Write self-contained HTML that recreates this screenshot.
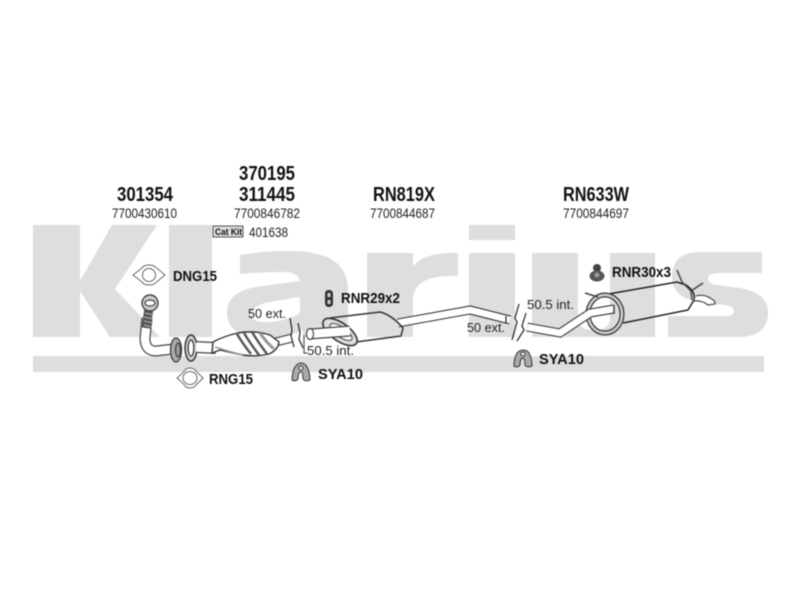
<!DOCTYPE html>
<html>
<head>
<meta charset="utf-8">
<style>
html,body{margin:0;padding:0;background:#fff;width:800px;height:600px;overflow:hidden}
svg{display:block;filter:blur(0.6px)}
text{font-family:"Liberation Sans",sans-serif;fill:#111}
.h{font-weight:bold;font-size:20px;text-anchor:start}
.n{font-size:14px;fill:#222}
.b{font-weight:bold;font-size:14.5px}
.m{font-size:13px;fill:#222}
</style>
</head>
<body>
<svg width="800" height="600" viewBox="0 0 800 600" xmlns="http://www.w3.org/2000/svg">
<rect width="800" height="600" fill="#fff"/>
<!-- watermark -->
<g fill="#dedede">
<path d="M33,225H80V281L112,225H157L115,289L160,337H110L80,291V337H33Z"/>
<rect x="169" y="225" width="43" height="112"/>
<path fill-rule="evenodd" d="M240,255Q262,251 290,251Q348,251 348,290V337H303V330Q285,339 265,338Q227,338 227,312Q227,290 262,286L300,281Q298,272 284,272Q262,272 240,274ZM300,297L270,302Q252,305 252,315Q252,322 265,322Q285,322 300,313Z"/>
<path d="M367,253H413V266Q425,252 458,253V276Q413,274 413,300V337H367Z"/>
<rect x="469" y="225" width="46" height="15"/>
<rect x="469" y="253" width="46" height="84"/>
<path d="M532,253H578V318Q578,330 594,330Q610,330 610,318V253H655V337H532Z"/>
<path d="M700,252H762V273H718Q708,273 708,279Q708,284 718,285L740,288Q768,293 768,312Q768,337 738,337H668V316H726Q734,316 734,311Q734,306 724,305L698,302Q672,297 672,277Q672,252 700,252Z"/>
<rect x="33" y="356" width="731" height="16"/>
</g>

<!-- headings -->
<text class="h" x="117" y="201" textLength="56" lengthAdjust="spacingAndGlyphs">301354</text>
<text class="h" x="239" y="180" textLength="56" lengthAdjust="spacingAndGlyphs">370195</text>
<text class="h" x="239" y="201" textLength="56" lengthAdjust="spacingAndGlyphs">311445</text>
<text class="h" x="373" y="201" textLength="62" lengthAdjust="spacingAndGlyphs">RN819X</text>
<text class="h" x="563" y="201" textLength="66" lengthAdjust="spacingAndGlyphs">RN633W</text>
<text class="n" x="112" y="218" textLength="65" lengthAdjust="spacingAndGlyphs">7700430610</text>
<text class="n" x="234" y="218" textLength="66" lengthAdjust="spacingAndGlyphs">7700846782</text>
<text class="n" x="370" y="218" textLength="65" lengthAdjust="spacingAndGlyphs">7700844687</text>
<text class="n" x="563" y="218" textLength="66" lengthAdjust="spacingAndGlyphs">7700844697</text>
<rect x="213" y="226" width="30" height="11" fill="#ddd" stroke="#555" stroke-width="1"/>
<text x="215" y="235" font-size="9" font-weight="bold" textLength="27" lengthAdjust="spacingAndGlyphs">Cat Kit</text>
<text class="n" x="249" y="237" textLength="39" lengthAdjust="spacingAndGlyphs">401638</text>

<!-- labels -->
<text class="b" x="173" y="281" textLength="44" lengthAdjust="spacingAndGlyphs">DNG15</text>
<text class="b" x="209" y="384" textLength="44" lengthAdjust="spacingAndGlyphs">RNG15</text>
<text class="b" x="318" y="379" textLength="45" lengthAdjust="spacingAndGlyphs">SYA10</text>
<text class="b" x="341" y="303" textLength="59" lengthAdjust="spacingAndGlyphs">RNR29x2</text>
<text class="b" x="612" y="277" textLength="59" lengthAdjust="spacingAndGlyphs">RNR30x3</text>
<text class="b" x="539" y="364" textLength="45" lengthAdjust="spacingAndGlyphs">SYA10</text>
<text class="m" x="248" y="318" textLength="38" lengthAdjust="spacingAndGlyphs">50 ext.</text>
<text class="m" x="307" y="355" textLength="47" lengthAdjust="spacingAndGlyphs">50.5 int.</text>
<text class="m" x="527" y="309" textLength="47" lengthAdjust="spacingAndGlyphs">50.5 int.</text>
<text class="m" x="467" y="332" textLength="38" lengthAdjust="spacingAndGlyphs">50 ext.</text>

<!-- gaskets -->
<g fill="#fff" stroke="#666" stroke-width="1">
<path d="M133,275Q141,269 144,266Q149,264 154,266Q158,269 165,275Q158,281 154,284Q149,286 144,284Q141,281 133,275Z"/>
<circle cx="149" cy="275" r="6.5"/>
<path d="M177,378Q184,372 186,369Q190,367 194,369Q197,372 203,378Q197,384 194,387Q190,389 186,387Q184,384 177,378Z"/>
<ellipse cx="190" cy="378" rx="7" ry="6.5"/>
</g>

<!-- front pipe -->
<g fill="none" stroke-linecap="butt">
<path d="M147,318L145,338Q145,351 156,351L174,349" stroke="#444" stroke-width="11"/>
<path d="M147,318L145,338Q145,351 156,351L174,349" stroke="#fff" stroke-width="8.6"/>
<path d="M149,308L146,328" stroke="#555" stroke-width="9"/>
<path d="M145,313l9,2M144,317l9,2M144,321l9,2M144,325l8,2" stroke="#bbb" stroke-width="1"/>
</g>
<ellipse cx="150" cy="303" rx="8" ry="8" fill="#ccc" stroke="#444" stroke-width="1.4"/>
<ellipse cx="150" cy="303" rx="5" ry="3" fill="#fff" stroke="#444" stroke-width="1.2"/>
<ellipse cx="176" cy="350" rx="5.5" ry="12" fill="#aaa" stroke="#333" stroke-width="1.2"/>
<ellipse cx="178" cy="350" rx="2.5" ry="7" fill="#999" stroke="#333"/>
<ellipse cx="191" cy="348" rx="6" ry="13" fill="#ccc" stroke="#333" stroke-width="1.4"/>
<ellipse cx="191" cy="348" rx="2.8" ry="8" fill="#fff" stroke="#333" stroke-width="1.2"/>

<!-- catalyst -->
<path d="M196,347L216,348" stroke="#444" stroke-width="12" fill="none"/>
<path d="M196,347L216,348" stroke="#fff" stroke-width="9.6" fill="none"/>
<path d="M272,343L292,338" stroke="#444" stroke-width="9" fill="none"/>
<path d="M272,343L292,338" stroke="#fff" stroke-width="6.6" fill="none"/>
<path d="M213,342Q224,336 238,333Q255,330 270,335L279,342Q278,350 269,354Q255,357 243,355Q232,353 220,350L212,353Z" fill="#fff" stroke="#333" stroke-width="1.4"/>
<g fill="none" stroke="#555" stroke-width="2.4">
<path d="M237,334Q243,344 251,354"/>
<path d="M244,333Q250,343 259,355"/>
<path d="M252,332Q258,342 267,354"/>
</g>
<path d="M260,333Q266,342 274,349" fill="none" stroke="#999" stroke-width="3"/>
<path d="M215,347Q230,352 243,355" fill="none" stroke="#999" stroke-width="1.5"/>

<!-- cut marks left -->
<g fill="none" stroke="#222" stroke-width="1.2">
<path d="M290,318L292,330L291,336L294,347"/>
<path d="M298,323L300,333L299,339L303,348"/>
<path d="M304,335V353H307" stroke="#555"/>
</g>

<!-- centre silencer -->
<path d="M398,323L470,310L510,320" fill="none" stroke="#333" stroke-width="9"/>
<path d="M398,323L470,310L510,320" fill="none" stroke="#fff" stroke-width="6.8"/>
<path d="M330,318L380,312Q392,315 403,328L401,336L356,342" fill="none" stroke="#333" stroke-width="1.5"/>
<ellipse cx="340" cy="332" rx="20" ry="9" transform="rotate(35 340 332)" fill="#ddd" stroke="#333" stroke-width="1.6"/>
<ellipse cx="341" cy="332" rx="13" ry="5" transform="rotate(35 341 332)" fill="#fff" stroke="#555" stroke-width="1.2"/>
<path d="M310,334L350,331" fill="none" stroke="#444" stroke-width="11"/>
<path d="M310,334L350,331" fill="none" stroke="#fff" stroke-width="8.6"/>
<ellipse cx="310" cy="334" rx="3.5" ry="5.5" fill="#fff" stroke="#444" stroke-width="1.2"/>

<!-- cut marks right -->
<g fill="none" stroke="#222" stroke-width="1.2">
<path d="M519,304L515,318L517,322L512,340"/>
<path d="M526,313L522,326L524,330L517,341"/>
<path d="M506,316v7"/>
</g>

<!-- rear silencer -->
<path d="M597,296L677,282L686,285Q696,292 694,300L688,310L623,323" fill="none" stroke="#222" stroke-width="1.5"/>
<path d="M696,296Q704,294 710,298Q716,301 715,304L708,305Q702,300 694,301" fill="#fff" stroke="#444" stroke-width="1.2"/>
<ellipse cx="605" cy="314" rx="17" ry="19" fill="none" stroke="#333" stroke-width="5"/>
<ellipse cx="605" cy="314" rx="17" ry="19" fill="none" stroke="#ccc" stroke-width="2.6"/>
<path d="M527,327L560,333L590,313L614,309" fill="none" stroke="#333" stroke-width="9"/>
<path d="M527,327L560,333L590,313L614,309" fill="none" stroke="#fff" stroke-width="6.8"/>
<path d="M614,305V314" stroke="#444" stroke-width="1.5"/>
<g fill="none" stroke="#444" stroke-width="1.5">
<path d="M677,270L682,282L692,292"/>
<path d="M703,283L691,291L692,300"/>
<path d="M585,293L598,297"/>
</g>

<!-- icons -->
<rect x="325" y="290" width="8" height="17" rx="3.5" fill="#333"/>
<rect x="327.5" y="293" width="3" height="4" fill="#ccc"/>
<rect x="327.5" y="300" width="3" height="4" fill="#ccc"/>

<circle cx="597" cy="268" r="4" fill="#444"/>
<ellipse cx="597" cy="276" rx="7.5" ry="5.5" fill="#555"/>
<circle cx="597" cy="275" r="2.5" fill="#999"/>

<g fill="#aaa" stroke="#333" stroke-width="1">
<path d="M292,380Q292,372 295,367Q298,363 301,363Q305,363 307,367Q310,373 310,380Q305,382 303,379Q303,372 301,372Q298,372 298,379Q296,382 292,380Z"/>
<circle cx="301" cy="368" r="2" fill="#fff"/>
<path d="M514,366Q514,358 517,353Q520,350 523,350Q527,350 529,353Q532,359 532,366Q527,368 525,365Q525,358 523,358Q520,358 520,365Q518,368 514,366Z"/>
<circle cx="523" cy="354" r="2" fill="#fff"/>
</g>
</svg>
</body>
</html>
